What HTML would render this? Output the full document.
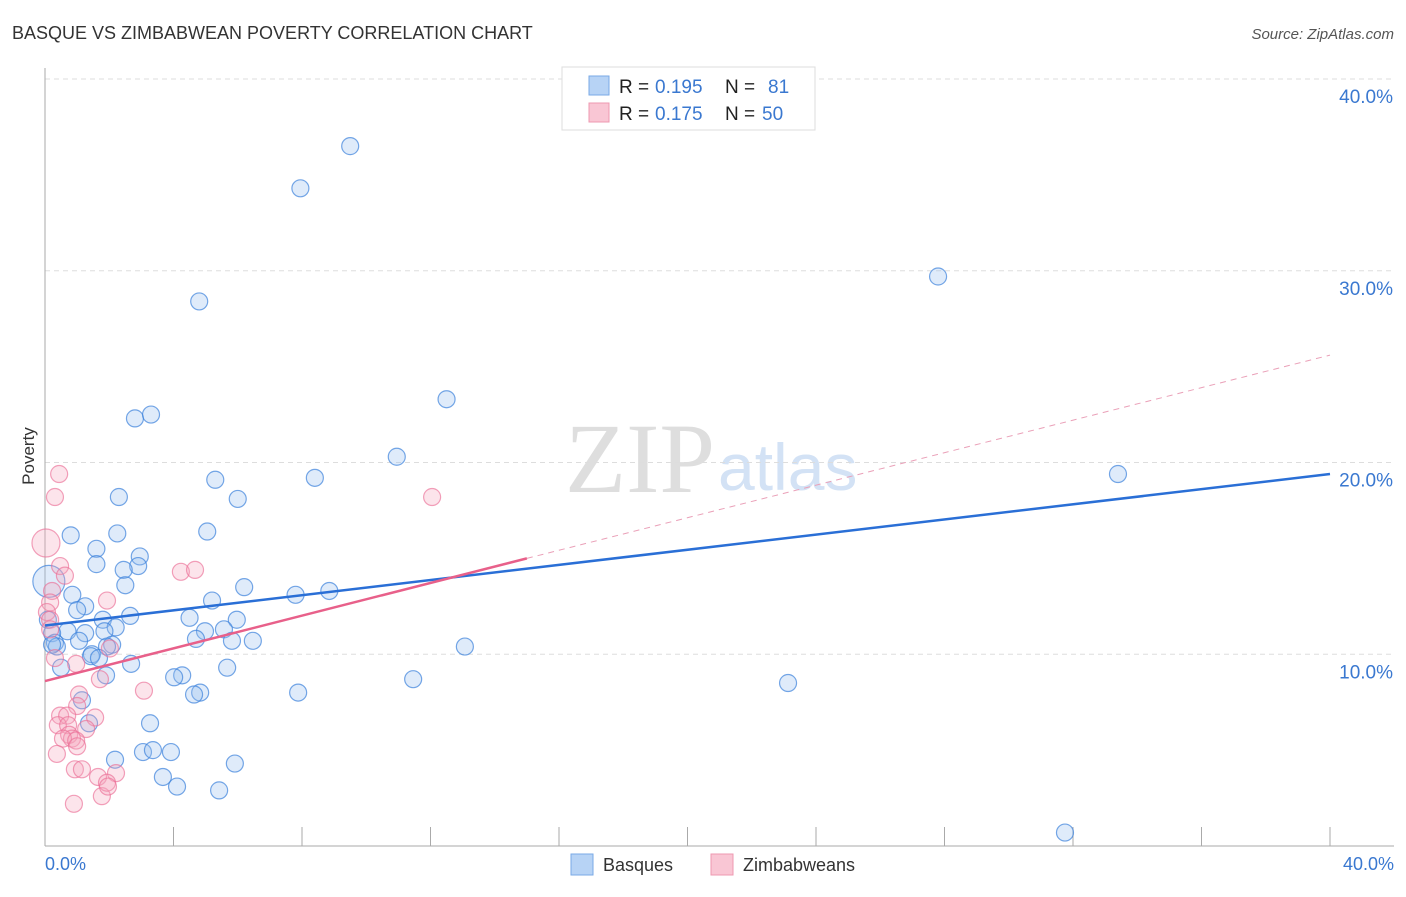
<!DOCTYPE html>
<html><head><meta charset="utf-8"><style>
body{margin:0;background:#fff;font-family:"Liberation Sans",sans-serif;}
</style></head><body>
<svg id="chart" width="1406" height="892" font-family="Liberation Sans, sans-serif">
<text x="12" y="39" font-size="18" fill="#333">BASQUE VS ZIMBABWEAN POVERTY CORRELATION CHART</text>
<text x="1394" y="39" font-size="15" fill="#555" font-style="italic" text-anchor="end">Source: ZipAtlas.com</text>
<text x="715" y="492" font-size="100" fill="#dedede" text-anchor="end" style="font-family:'Liberation Serif',serif">ZIP</text>
<text x="718" y="490" font-size="66" fill="#d3e2f5">atlas</text>
<g id="grid"></g>
<g id="axes"></g>
<g id="pts"></g>
<g id="lines"></g>
<text x="34" y="456" font-size="17" fill="#333" text-anchor="middle" transform="rotate(-90 34 456)">Poverty</text>
<text x="45" y="870" font-size="18" fill="#3a78d0">0.0%</text>
<text x="1394" y="870" font-size="18" fill="#3a78d0" text-anchor="end">40.0%</text>
<g>
<rect x="562" y="67" width="253" height="63" fill="#fff" stroke="#ddd"/>
<rect x="589" y="76" width="20" height="19" fill="#b7d3f5" stroke="#7aaae6"/>
<rect x="589" y="103" width="20" height="19" fill="#f9c6d4" stroke="#ee98b0"/>
<text x="619" y="93" font-size="19" fill="#222">R =</text>
<text x="655" y="93" font-size="19" fill="#3a78d0">0.195</text>
<text x="725" y="93" font-size="19" fill="#222">N =</text>
<text x="768" y="93" font-size="19" fill="#3a78d0">81</text>
<text x="619" y="120" font-size="19" fill="#222">R =</text>
<text x="655" y="120" font-size="19" fill="#3a78d0">0.175</text>
<text x="725" y="120" font-size="19" fill="#222">N =</text>
<text x="762" y="120" font-size="19" fill="#3a78d0">50</text>
</g>
<g>
<rect x="571" y="854" width="22" height="21" fill="#b7d3f5" stroke="#7aaae6"/>
<text x="603" y="871" font-size="18" fill="#333">Basques</text>
<rect x="711" y="854" width="22" height="21" fill="#f9c6d4" stroke="#ee98b0"/>
<text x="743" y="871" font-size="18" fill="#333">Zimbabweans</text>
</g>
</svg>
<script>
const yTicks=[10,20,30,40];
const xTicks=[0,4,8,12,16,20,24,28,32,36,40];
const basqueX=[7.95,9.5,4.8,27.8,12.5,2.8,3.3,10.95,8.4,33.4,5.3,2.3,6.0,5.05,2.25,0.8,1.6,2.95,1.6,2.9,2.45,2.5,6.2,8.85,7.8,0.85,5.2,1.25,1.0,2.65,4.5,1.8,5.97,2.2,5.57,4.98,1.85,0.7,1.25,0.22,4.7,5.82,6.47,1.06,0.31,2.09,0.37,13.07,1.93,1.46,1.43,1.68,2.68,0.5,5.67,4.27,4.02,1.9,11.46,23.13,4.83,4.64,7.88,1.15,3.27,1.37,5.91,2.18,3.05,3.36,3.92,3.67,4.11,5.42,31.75,0.12,0.09,0.22];
const basqueY=[34.3,36.5,28.4,29.7,23.3,22.3,22.5,20.3,19.2,19.4,19.1,18.2,18.1,16.4,16.3,16.2,15.5,15.1,14.7,14.6,14.4,13.6,13.5,13.3,13.1,13.1,12.8,12.5,12.3,12.0,11.9,11.8,11.8,11.4,11.3,11.2,11.2,11.2,11.1,11.1,10.8,10.7,10.7,10.7,10.6,10.5,10.4,10.4,10.4,10.0,9.9,9.8,9.5,9.3,9.3,8.9,8.8,8.9,8.7,8.5,8.0,7.9,8.0,7.6,6.4,6.4,4.3,4.5,4.9,5.0,4.9,3.6,3.1,2.9,0.7,13.8,11.8,10.5];
const zimX=[0.44,0.31,12.05,0.03,4.23,4.67,0.47,0.62,0.22,0.16,1.93,0.06,0.16,0.16,2.02,0.31,0.97,1.71,3.08,1.06,1.0,1.56,0.47,0.69,0.4,0.72,1.28,0.75,0.84,0.56,0.97,1.0,0.37,0.93,1.15,1.65,2.21,1.77,1.93,1.96,0.9];
const zimY=[19.4,18.2,18.2,15.8,14.3,14.4,14.6,14.1,13.3,12.7,12.8,12.2,11.8,11.3,10.3,9.8,9.5,8.7,8.1,7.9,7.3,6.7,6.8,6.8,6.3,6.3,6.1,5.8,5.6,5.6,5.5,5.2,4.8,4.0,4.0,3.6,3.8,2.6,3.3,3.1,2.2];
const basqueLine=[0,11.5,40,19.4];
const zimLine=[0,8.6,15,15.0];
const zimDash=[15,15.0,40,25.6];
const X0=45,X1=1330,YB=846,YT=79;
function sx(v){return X0+(X1-X0)*v/40;}
function sy(v){return YB-(YB-YT)*v/40;}
const NS='http://www.w3.org/2000/svg';
function mk(tag,attrs,parent){const e=document.createElementNS(NS,tag);for(const k in attrs)e.setAttribute(k,attrs[k]);document.getElementById(parent).appendChild(e);return e;}
yTicks.forEach(t=>{
 const l=mk('line',{x1:X0,x2:1394,y1:sy(t),y2:sy(t),stroke:'#ddd','stroke-dasharray':'5,4'},'grid');
 
 
 const tx=mk('text',{x:1393,y:sy(t)+24,'font-size':19,fill:'#3a78d0','text-anchor':'end'},'grid');
 tx.textContent=t.toFixed(1)+'%';
 
 
});
const ax=mk('line',{x1:X0,x2:X0,y1:68,y2:YB,stroke:'#aaa'},'axes');


const bx=mk('line',{x1:X0,x2:1394,y1:YB,y2:YB,stroke:'#aaa'},'axes');


xTicks.forEach(t=>{
 const l=mk('line',{x1:sx(t),x2:sx(t),y1:YB,y2:YB-19,stroke:'#aaa'},'axes');
 
 
});
basqueX.forEach((v,i)=>{
 const big=i===75;
 const c=mk('circle',{cx:sx(v),cy:sy(basqueY[i]),r:big?16:8.5,fill:'rgba(150,190,240,0.3)',stroke:'rgba(60,130,220,0.7)','stroke-width':1.2},'pts');
 
 
});
zimX.forEach((v,i)=>{
 const big=i===3;
 const c=mk('circle',{cx:sx(v),cy:sy(zimY[i]),r:big?14:8.5,fill:'rgba(245,165,190,0.3)',stroke:'rgba(235,110,150,0.65)','stroke-width':1.2},'pts');
 
 
});
const d=mk('line',{x1:sx(zimDash[0]),y1:sy(zimDash[1]),x2:sx(zimDash[2]),y2:sy(zimDash[3]),stroke:'#eaa0b8','stroke-width':1,'stroke-dasharray':'6,5'},'lines');


const b=mk('line',{x1:sx(basqueLine[0]),y1:sy(basqueLine[1]),x2:sx(basqueLine[2]),y2:sy(basqueLine[3]),stroke:'#2a6fd6','stroke-width':2.5},'lines');


const z=mk('line',{x1:sx(zimLine[0]),y1:sy(zimLine[1]),x2:sx(zimLine[2]),y2:sy(zimLine[3]),stroke:'#e8608a','stroke-width':2.5},'lines');


</script>
</body></html>
